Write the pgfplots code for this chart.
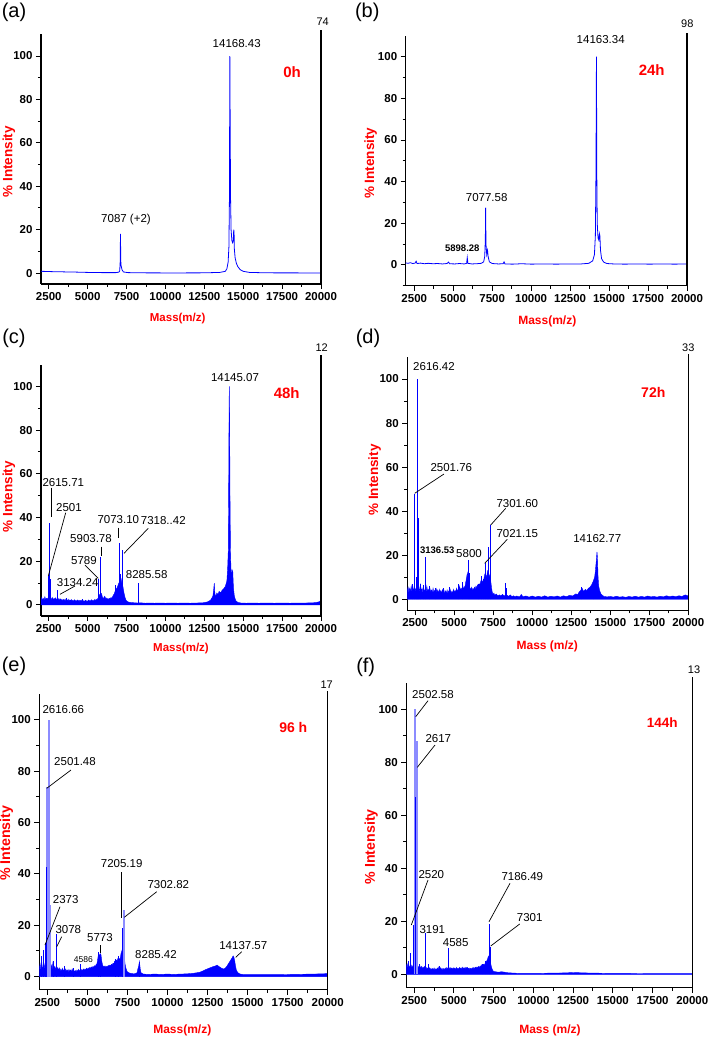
\documentclass[border=0pt]{standalone}
\usepackage{fontspec}
\setmainfont{Liberation Sans}
\usepackage{graphicx}
\usepackage{pgfplots}
\pgfplotsset{compat=1.18}
\newcommand{\fs}[1]{\fontsize{#1}{#1}\selectfont}
\pgfplotsset{
  spec/.style={
    scale only axis, anchor=south west, clip=false,
    xmin=2000, xmax=20000, ymin=-5, ymax=110,
    axis x line*=bottom, axis y line*=left,
    axis line style={line width=1.2pt, black},
    xtick={2500,5000,...,20000}, ytick={0,20,...,100},
    minor xtick={3750,6250,...,18750}, minor ytick={-10,10,30,...,90},
    tick align=outside, major tick length=5pt, minor tick length=3pt,
    every tick/.style={black, line width=1pt},
    tick label style={font=\fs{11.5}\bfseries},
    /pgf/number format/assume math mode=true,
    /pgf/number format/set thousands separator={},
    scaled x ticks=false,
  },
  band/.style={draw=blue, fill=blue, line width=0.4pt},
  ln/.style={draw=blue, line width=0.8pt, mark=none},
  pk/.style={ycomb, draw=blue, line width=0.7pt, mark=none},
  pkl/.style={ycomb, draw=blue!45, line width=1.6pt, mark=none},
}
\begin{document}
\begin{tikzpicture}
\useasboundingbox (0,0) rectangle (709pt,-1042pt);
% ---------------- (a) 0h
\begin{axis}[spec, at={(41pt,-283.9pt)}, width=280pt, height=249.6pt]
\addplot[ln] coordinates {(2000,0.8)(2300,0.75)(2700,0.65)(3200,0.6)(3700,0.5)(4200,0.45)(4700,0.35)(5300,0.25)(6000,0.2)(6800,0.2)(7000,0.4)(7060,1)(7090,5)(7110,18)(7125,6)(7145,3.5)(7170,2.8)(7210,1.5)(7300,0.5)(7600,0.2)(8500,0.1)(10500,0.05)(12500,0.1)(13500,0.3)(13850,0.8)(13950,2)(14030,5)(14080,12)(14115,35)(14140,100)(14160,70)(14185,35)(14220,20)(14270,15)(14320,14)(14360,15)(14390,20)(14410,19)(14430,11)(14480,7)(14560,4.5)(14650,3)(14800,1.6)(15000,0.8)(15400,0.3)(16500,0.1)(20000,0.05)};
\end{axis}
% ---------------- (b) 24h
\begin{axis}[spec, at={(405.7pt,-285.8pt)}, width=281.3pt, height=249.9pt, xmin=1950, ymin=-10]
\addplot[ln] coordinates {(1950,1)(2100,0.8)(2250,1.1)(2400,0.7)(2550,0.9)(2620,1.8)(2680,0.7)(2900,0.9)(3150,0.6)(3400,0.8)(3700,0.6)(4000,0.7)(4300,0.5)(4600,0.7)(4700,1.4)(4760,0.6)(5100,0.5)(5400,0.7)(5700,0.5)(5860,0.8)(5900,3.5)(5940,0.8)(6200,0.5)(6500,0.6)(6800,0.8)(6950,1.5)(7020,4)(7060,12)(7080,27.5)(7100,10)(7150,5)(7200,7)(7240,4)(7320,1.5)(7500,0.7)(7900,0.5)(8200,0.6)(8260,1.5)(8320,0.5)(8800,0.4)(9400,0.6)(10000,0.4)(10800,0.5)(11600,0.4)(12400,0.5)(13200,0.5)(13700,0.8)(13950,2)(14060,5)(14120,14)(14160,45)(14190,100)(14210,45)(14240,20)(14290,13)(14340,12)(14380,15)(14410,14)(14450,7)(14520,3)(14650,1.4)(14850,0.7)(15300,0.5)(16000,0.4)(16800,0.5)(17600,0.4)(18400,0.5)(19200,0.4)(20000,0.5)};
\end{axis}
% ---------------- (c) 48h
\begin{axis}[spec, at={(41pt,-615.9pt)}, width=280pt, height=251.4pt]
\addplot[band] coordinates {(2000,2.5)(2050,3.5)(2100,2)(2150,3)(2200,2.2)(2250,3.8)(2300,2.4)(2350,3)(2400,2.6)(2450,3.2)(2500,2.4)(2550,2.8)(2600,3.5)(2650,3.2)(2700,2.4)(2750,3.4)(2800,2.2)(2850,3)(2900,2.5)(2950,3.3)(3000,2.2)(3050,2.8)(3100,2.3)(3150,3)(3200,2)(3250,2.8)(3300,2.1)(3350,2.6)(3400,1.8)(3450,2.5)(3500,1.9)(3550,2.7)(3600,1.8)(3650,2.4)(3700,2)(3750,2.6)(3800,1.7)(3850,2.3)(3900,1.9)(3950,2.5)(4000,1.8)(4050,2.2)(4100,1.6)(4150,2.4)(4200,1.8)(4250,2.1)(4300,1.6)(4350,2.3)(4400,1.7)(4450,2.2)(4500,1.5)(4550,2.1)(4600,1.7)(4650,2.4)(4700,1.6)(4750,2)(4800,1.5)(4850,2.2)(4900,1.6)(4950,2)(5000,1.5)(5050,2.3)(5100,1.7)(5150,2.1)(5200,1.6)(5250,2.4)(5300,1.8)(5350,2.2)(5400,1.7)(5450,2.5)(5500,2)(5550,2.6)(5600,2.2)(5650,3)(5700,3.5)(5750,4.5)(5800,5)(5850,5.5)(5900,5)(5950,3.5)(6000,2.8)(6050,3.5)(6100,4)(6150,3)(6200,3.2)(6250,2.6)(6300,3)(6350,2.5)(6400,3)(6450,2.8)(6500,3.4)(6550,3)(6600,3.8)(6650,4.5)(6700,5)(6750,6)(6800,7)(6850,7.5)(6900,8)(6950,9)(7000,10)(7050,9)(7100,11)(7150,12)(7200,10)(7250,9)(7300,7)(7350,5)(7400,3.5)(7450,2.5)(7500,1.8)(7600,1.4)(7700,1.2)(7850,1.1)(8000,1)(8200,0.9)(8400,1)(8700,0.8)(9000,0.9)(9300,0.8)(9600,0.9)(10000,0.8)(10400,0.9)(10800,0.8)(11200,0.9)(11600,0.8)(12000,0.9)(12400,1)(12700,1.4)(12900,2.2)(13050,4)(13100,7)(13140,10)(13180,5)(13250,4)(13300,5.5)(13380,4.8)(13450,6.2)(13550,5.6)(13650,6.8)(13750,7.5)(13850,8.5)(13950,11)(14000,17)(14040,25)(14070,60)(14090,90)(14105,100)(14125,85)(14150,50)(14180,25)(14210,17)(14250,13)(14290,16)(14330,15)(14370,8)(14430,4)(14520,2)(14650,1.2)(14850,0.9)(15200,0.8)(15600,0.9)(16000,0.8)(16500,0.9)(17000,0.8)(17500,0.9)(18000,0.8)(18500,0.9)(19000,0.9)(19500,1)(19800,1.3)(20000,1.8)} \closedcycle;
\addplot[pk] coordinates {(2455,13.3)(2564,37.4)(2600,12)(3060,6.9)(3650,3.2)(4670,2.6)(5718,12)(5827,22)(6811,9)(7005,28.5)(7090,14)(7240,25)(8247,10)};
\end{axis}
% ---------------- (d) 72h
\begin{axis}[spec, at={(407.3pt,-610.3pt)}, width=281pt, height=253.3pt]
\addplot[band] coordinates {(2000,4)(2050,5.5)(2100,3)(2150,5)(2200,3.5)(2250,6)(2300,3)(2350,5)(2400,4)(2450,6.5)(2500,3.5)(2550,5)(2600,4)(2650,6)(2700,3.5)(2750,5.5)(2800,3)(2850,6.5)(2900,3.5)(2950,5)(3000,3)(3050,4.5)(3100,3.5)(3150,5)(3200,3)(3250,6)(3300,3.5)(3350,4.5)(3400,2.8)(3450,5)(3500,3.2)(3550,4.2)(3600,2.8)(3650,5)(3700,3)(3750,4)(3800,2.6)(3850,4.8)(3900,3)(3950,4.2)(4000,2.5)(4050,4.5)(4100,3)(4150,4)(4200,2.5)(4250,4.4)(4300,2.8)(4350,4)(4400,2.4)(4450,3.8)(4500,2.6)(4550,4.2)(4600,2.5)(4650,3.8)(4700,2.8)(4750,4.4)(4800,2.6)(4850,3.6)(4900,2.8)(4950,4.5)(5000,3)(5050,4)(5100,3.2)(5150,5)(5200,3.5)(5250,4.5)(5300,3.6)(5350,6)(5400,4)(5450,5)(5500,4.2)(5550,6.5)(5600,4.5)(5650,5.5)(5700,6)(5750,8)(5800,10)(5850,12)(5900,9)(5950,7)(6000,5)(6050,4.5)(6100,5.5)(6150,4)(6200,5)(6250,4.2)(6300,5.5)(6350,4.5)(6400,6)(6450,5)(6500,6.5)(6550,5.5)(6600,7)(6650,6.5)(6700,8)(6750,9)(6800,7.5)(6850,8.5)(6900,9)(6950,11)(7000,12)(7050,10)(7100,11)(7150,13)(7200,12)(7250,11)(7300,10)(7350,8)(7400,5)(7450,3)(7500,2.2)(7550,2.8)(7600,1.8)(7700,2.4)(7800,1.6)(7900,2)(8000,1.5)(8100,2.2)(8200,1.6)(8400,1.8)(8500,1.3)(8600,2)(8700,1.2)(8800,1.6)(8900,1.1)(9000,1.5)(9200,1.1)(9300,2.2)(9400,1.2)(9600,1.5)(9800,1)(10000,1.5)(10200,1)(10400,1.4)(10600,1)(10800,1.6)(11000,1)(11200,1.4)(11400,1.1)(11600,1.5)(11800,1)(12000,1.6)(12200,1.2)(12400,1.8)(12600,1.5)(12800,2.5)(12900,2)(13000,3.2)(13100,4)(13200,5)(13300,3.5)(13400,4.5)(13500,4)(13600,5)(13700,5.5)(13800,6.5)(13900,8)(14000,10)(14050,13)(14100,17)(14150,21.5)(14180,19)(14220,10)(14260,6)(14320,4)(14400,2.5)(14500,1.8)(14600,1.3)(14800,1.1)(15000,1.3)(15200,1)(15400,1.4)(15600,1)(15800,1.2)(16000,0.9)(16200,1.3)(16400,1)(16600,1.4)(16800,1)(17000,1.3)(17200,1)(17400,1.5)(17600,1.1)(17800,1.3)(18000,1)(18200,1.4)(18400,1.1)(18600,1.6)(18800,1.2)(19000,1.5)(19200,1.2)(19400,1.6)(19600,1.3)(19800,2)(20000,1.5)} \closedcycle;
\addplot[pk] coordinates {(2300,7)(2474,48)(2560,10)(2641,100)(2700,37)(2850,7)(3000,6.5)(3134,19)(3400,6)(3800,5)(4300,5)(4700,5.5)(5300,7)(5500,8)(5908,18)(5950,12)(6550,7)(6750,10.5)(6900,9)(7022,16.3)(7100,12)(7170,23.6)(7341,33.7)(8303,7.3)(8350,5)(13150,5.5)(13900,8)};
\end{axis}
% ---------------- (e) 96 h
\begin{axis}[spec, at={(39.3pt,-989.5pt)}, width=288.4pt, height=295.3pt]
\addplot[band] coordinates {(2000,3)(2050,5)(2100,2.5)(2150,4)(2200,2.8)(2250,6)(2300,3)(2350,5)(2400,3.5)(2450,5.5)(2500,3)(2550,5)(2600,3.2)(2650,5.5)(2700,3)(2750,4.5)(2800,2.8)(2850,5.5)(2900,3)(2950,4)(3000,2.5)(3050,4)(3100,2.8)(3150,3.6)(3200,2.4)(3250,3.4)(3300,2.2)(3350,3)(3400,2)(3450,3.2)(3500,2.2)(3550,2.8)(3600,2)(3650,3)(3700,2)(3750,2.6)(3800,1.8)(3850,2.8)(3900,2)(3950,2.6)(4000,1.8)(4050,3)(4100,2)(4150,2.6)(4200,1.8)(4250,2.4)(4300,1.9)(4350,2.6)(4400,2)(4450,2.8)(4500,2.1)(4550,2.7)(4600,2.2)(4650,2.8)(4700,2.3)(4750,3)(4800,2.4)(4850,3)(4900,2.6)(4950,3.3)(5000,2.8)(5050,3.4)(5100,3)(5150,3.6)(5200,3.2)(5250,3.8)(5300,3.4)(5350,4)(5400,3.6)(5450,4.3)(5500,4)(5550,4.8)(5600,5)(5650,7)(5700,9)(5750,8)(5800,9)(5850,8.5)(5900,6)(5950,4.5)(6000,4)(6050,3.8)(6100,4.2)(6150,3.6)(6200,4)(6250,3.8)(6300,4.4)(6350,4)(6400,4.5)(6450,4.2)(6500,4.8)(6550,4.5)(6600,5.2)(6650,5)(6700,6)(6750,5.5)(6800,6.5)(6850,6)(6900,7)(6950,6.5)(7000,7)(7050,7)(7100,9)(7150,10)(7200,11)(7250,10)(7300,8)(7350,5)(7400,3.5)(7450,2.5)(7500,1.8)(7600,1.5)(7700,1.3)(7800,1.2)(7900,1.1)(8000,1.2)(8100,1.5)(8150,3)(8200,4)(8250,5.9)(8300,3)(8350,1.5)(8500,1)(8800,0.9)(9200,1)(9600,0.9)(10000,1)(10400,0.9)(10800,1)(11200,1.1)(11600,1.3)(12000,1.7)(12200,2.2)(12400,2.8)(12600,3.3)(12800,3.8)(13000,4.2)(13100,4.5)(13200,4)(13300,3.6)(13400,3.2)(13500,3)(13600,3.3)(13700,4)(13800,5)(13900,6)(14000,7)(14050,7.5)(14100,8.1)(14150,7.5)(14200,6)(14250,4)(14300,2.5)(14400,1.5)(14550,1)(14800,0.8)(15200,0.8)(16000,0.8)(17000,0.8)(18000,0.9)(19000,1)(19600,1.1)(20000,1.2)} \closedcycle;
\addplot[pkl] coordinates {(2462,74)(2605,100)(2711,28)(7290,26)};
\addplot[pk] coordinates {(2150,8)(2250,10.5)(2356,13)(2440,42.7)(2850,6)(3086,16.7)(3560,4)(4100,3.5)(4540,4.9)(5682,9.8)(5832,9)(6725,7)(6930,8)(7205,19)(8241,5.9)};
\end{axis}
% ---------------- (f) 144h
\begin{axis}[spec, at={(406.3pt,-987.6pt)}, width=286pt, height=304.8pt]
\addplot[band] coordinates {(2000,3)(2050,4)(2100,2.5)(2150,3.5)(2200,2.2)(2250,3.8)(2300,2.5)(2350,3.5)(2400,2.6)(2450,3)(2500,2.8)(2550,3.2)(2600,2.5)(2650,3.2)(2700,2.2)(2750,3)(2800,2.4)(2850,3.4)(2900,2.2)(2950,3)(3000,2)(3050,2.8)(3100,2.2)(3150,3)(3200,1.8)(3250,2.6)(3300,1.9)(3350,2.4)(3400,1.7)(3450,2.5)(3500,1.8)(3550,2.3)(3600,1.6)(3650,2.2)(3700,1.7)(3750,2.4)(3800,1.6)(3850,2.1)(3900,1.7)(3950,2.4)(4000,1.8)(4050,2.8)(4100,2)(4150,2.5)(4200,1.7)(4250,2.3)(4300,1.6)(4350,2.2)(4400,1.8)(4450,2.4)(4500,1.8)(4550,2.6)(4600,2.2)(4650,2.4)(4700,2)(4750,2.6)(4800,2.1)(4850,2.4)(4900,1.9)(4950,2.5)(5000,2)(5050,2.4)(5100,1.8)(5150,2.6)(5200,2)(5250,2.3)(5300,1.9)(5350,2.6)(5400,2.1)(5450,2.5)(5500,1.9)(5550,2.7)(5600,2.2)(5650,2.5)(5700,2)(5750,2.7)(5800,2.3)(5850,2.6)(5900,2)(5950,2.4)(6000,1.8)(6050,2.3)(6100,1.9)(6150,2.5)(6200,2)(6250,2.6)(6300,2.2)(6350,2.7)(6400,2.3)(6450,2.8)(6500,2.4)(6550,3)(6600,2.6)(6650,3.2)(6700,3)(6750,3.6)(6800,3.2)(6850,3.8)(6900,3.4)(6950,4)(7000,4.5)(7050,5)(7100,5.5)(7150,6.5)(7200,7)(7250,6)(7300,4.5)(7350,3)(7400,2)(7450,1.4)(7500,1.1)(7600,1)(7700,0.9)(7800,0.8)(7900,0.9)(8000,1)(8100,0.9)(8200,0.8)(8400,0.6)(8700,0.5)(9000,0.4)(9500,0.4)(10000,0.35)(10500,0.4)(11000,0.45)(11500,0.5)(12000,0.55)(12500,0.7)(13000,0.6)(13500,0.5)(14000,0.45)(14500,0.4)(15000,0.4)(15500,0.35)(16000,0.35)(17000,0.3)(18000,0.3)(19000,0.3)(20000,0.3)} \closedcycle;
\addplot[pkl] coordinates {(2548,100)(2692,88)};
\addplot[pk] coordinates {(2150,5)(2277,8.2)(2422,18.6)(2600,67)(2800,4)(3177,15.5)(3400,4)(4100,3)(4625,9.8)(6800,4)(7000,5)(7205,19)(7312,10.4)};
\end{axis}
% ---------------- decorations (pixel coordinates)
\begin{scope}[x=1pt,y=-1pt]
\tikzset{ld/.style={line width=0.7pt}, rl/.style={line width=1.2pt},
  pl/.style={font=\fs{11.5}, inner sep=0pt},
  tl/.style={font=\fs{15}\bfseries, text=red, inner sep=0pt},
  yl/.style={font=\fs{13.5}\bfseries, text=red, rotate=90, inner sep=0pt},
  xl/.style={font=\fs{12}\bfseries, text=red, inner sep=0pt},
  lt/.style={font=\fs{20}, inner sep=0pt},
  tn/.style={font=\fs{11}, inner sep=0pt}}
% right lines and numbers
\draw[rl] (321,283.9)--(321,30);   \node[tn] at (322.7,22) {74};
\draw[rl] (687,285.8)--(687,33.3); \node[tn] at (687.3,24) {98};
\draw[rl] (321,615.9)--(321,355);  \node[tn] at (321.7,348) {12};
\draw[rl] (688.3,610.3)--(688.3,354); \node[tn] at (688.3,347.5) {33};
\draw[rl] (327.7,989.5)--(327.7,691); \node[tn] at (326.7,684.5) {17};
\draw[rl] (692.3,987.6)--(692.3,677); \node[tn] at (694,670) {13};
% panel letters
\node[lt] at (14,12.7) {(a)};
\node[lt] at (367.3,12.7) {(b)};
\node[lt] at (14,338.3) {(c)};
\node[lt] at (368,338.3) {(d)};
\node[lt] at (14,666.7) {(e)};
\node[lt] at (365.7,667.3) {(f)};
% axis labels
\node[yl] at (9,161.7) {\% Intensity};
\node[yl] at (370.7,163.3) {\% Intensity};
\node[yl] at (9,496.7) {\% Intensity};
\node[yl] at (374.7,480) {\% Intensity};
\node[yl, font=\fs{14.2}\bfseries] at (6.5,843.3) {\% Intensity};
\node[yl, font=\fs{14.2}\bfseries] at (371.3,846.7) {\% Intensity};
\node[xl, font=\fs{11.5}\bfseries] at (177.7,319) {Mass(m/z)};
\node[xl] at (547.3,321) {Mass(m/z)};
\node[xl, font=\fs{11.5}\bfseries] at (181,648.3) {Mass(m/z)};
\node[xl] at (547.3,646.7) {Mass (m/z)};
\node[xl] at (182.3,1030) {Mass(m/z)};
\node[xl] at (550,1030) {Mass (m/z)};
% time labels
\node[tl] at (292,72) {0h};
\node[tl] at (651.7,70) {24h};
\node[tl] at (286.7,393.3) {48h};
\node[tl, font=\fs{14}\bfseries] at (653.3,392.3) {72h};
\node[tl, font=\fs{14}\bfseries] at (293.3,727.7) {96 h};
\node[tl, font=\fs{13.5}\bfseries] at (662.3,722.7) {144h};
% (a)
\node[pl] at (236.7,43.3) {14168.43};
\node[pl] at (126,220) {7087 (+2)};
% (b)
\node[pl] at (600.7,40) {14163.34};
\node[pl] at (486.7,197.7) {7077.58};
\node[pl, font=\fs{9.5}\bfseries] at (462.3,248.3) {5898.28};
% (c)
\node[pl] at (235,377.7) {14145.07};
\node[pl] at (63.3,482.7) {2615.71};
\node[pl] at (69,507.7) {2501};
\node[pl] at (118.3,520) {7073.10};
\node[pl] at (163.3,520.7) {7318..42};
\node[pl] at (91,539) {5903.78};
\node[pl] at (84,561) {5789};
\node[pl] at (77.7,582.3) {3134.24};
\node[pl] at (146.7,574.3) {8285.58};
\draw[ld] (51,487.7)--(51,516.7);
\draw[ld] (65.7,512.7)--(48.3,576);
\draw[ld] (118.7,527.7)--(118.7,538.3);
\draw[ld] (148.3,528.3)--(124,553.3);
\draw[ld] (101,546.7)--(101,556);
\draw[ld] (85,565)--(98.3,578.3);
\draw[ld] (75,586)--(60,594.3);
% (d)
\node[pl] at (434,366.7) {2616.42};
\node[pl] at (451.3,467.3) {2501.76};
\node[pl, font=\fs{9.5}\bfseries] at (437.3,550.7) {3136.53};
\node[pl] at (469,553.3) {5800};
\node[pl] at (517.3,503.3) {7301.60};
\node[pl] at (517.3,533.3) {7021.15};
\node[pl] at (597.3,538.3) {14162.77};
\draw[ld] (444,474)--(414.7,493.3);
\draw[ld] (505.7,508.3)--(490.7,525);
\draw[ld] (507.3,539.3)--(484.7,563.3);
% (e)
\node[pl] at (63.3,709.3) {2616.66};
\node[pl] at (75,761.7) {2501.48};
\node[pl] at (65.7,900) {2373};
\node[pl] at (68.3,930) {3078};
\node[pl, font=\fs{8.5}] at (83.3,959.3) {4586};
\node[pl] at (100,937.3) {5773};
\node[pl] at (121.7,864) {7205.19};
\node[pl] at (168.3,885) {7302.82};
\node[pl] at (156,955) {8285.42};
\node[pl] at (243.3,945.7) {14137.57};
\draw[ld] (71,770)--(46.7,788.3);
\draw[ld] (60,906.7)--(45,945);
\draw[ld] (61.7,936.7)--(56.7,946.7);
\draw[ld] (100,945)--(100,952.7);
\draw[line width=1.5pt] (121.7,872.3)--(121.7,918.3);
\draw[ld] (156.7,891.7)--(124.3,917.3);
\draw[ld] (241.7,951.7)--(235.7,957.3);
% (f)
\node[pl] at (433,695) {2502.58};
\node[pl] at (438.3,738.3) {2617};
\node[pl] at (431.3,875) {2520};
\node[pl] at (432.3,929.3) {3191};
\node[pl] at (455.7,942.3) {4585};
\node[pl] at (522.3,876.7) {7186.49};
\node[pl] at (529.7,917.7) {7301};
\draw[ld] (428,700.7)--(415.7,716.7);
\draw[ld] (435,745)--(417.3,767.3);
\draw[ld] (428,880)--(411.3,925);
\draw[ld] (510,883.3)--(489,921.7);
\draw[ld] (519.7,924)--(490.7,946);
\end{scope}
\end{tikzpicture}
\end{document}
